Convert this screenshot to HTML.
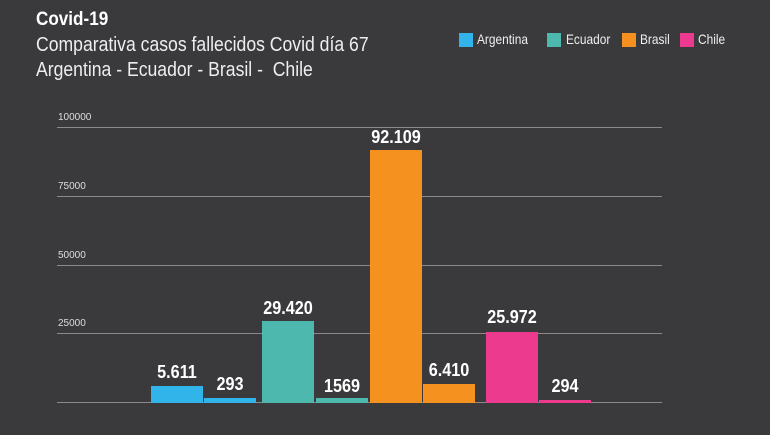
<!DOCTYPE html>
<html><head><meta charset="utf-8"><style>
body{margin:0;width:770px;height:435px;background:#3a3a3d;overflow:hidden;font-family:"Liberation Sans",sans-serif;color:#fff;position:relative}
.t{position:absolute;white-space:nowrap;transform-origin:0 0}
.g{position:absolute;left:57px;width:605px;height:1px;background:#8a8a8d}
.yl{position:absolute;left:58px;font-size:10px;color:#ddd}
.b{position:absolute;width:52px}
.v{position:absolute;width:80px;text-align:center;font-weight:bold;font-size:18px;transform:scaleX(.9)}
.lg{position:absolute;top:33px;width:14px;height:14px}
.lt{position:absolute;top:31px;font-size:14px;transform:scaleX(.85);transform-origin:0 0;color:#eee}
</style></head><body>
<div class="t" style="left:36px;top:9px;font-size:19px;font-weight:bold;transform:scaleX(.9)">Covid-19</div>
<div class="t" style="left:36px;top:34px;font-size:20px;transform:scaleX(.88);color:#eee">Comparativa casos fallecidos Covid día 67</div>
<div class="t" style="left:36px;top:59px;font-size:20px;transform:scaleX(.88);color:#eee">Argentina - Ecuador - Brasil -&nbsp; Chile</div>

<div class="lg" style="left:459px;background:#30b4e9"></div><div class="lt" style="left:477px">Argentina</div>
<div class="lg" style="left:547px;background:#4db8ad"></div><div class="lt" style="left:566px">Ecuador</div>
<div class="lg" style="left:622px;background:#f5921f"></div><div class="lt" style="left:640px">Brasil</div>
<div class="lg" style="left:680px;background:#ec3a8e"></div><div class="lt" style="left:698px">Chile</div>

<div class="yl" style="top:112px">100000</div>
<div class="yl" style="top:181px">75000</div>
<div class="yl" style="top:250px">50000</div>
<div class="yl" style="top:318px">25000</div>
<div class="g" style="top:127px"></div>
<div class="g" style="top:196px"></div>
<div class="g" style="top:265px"></div>
<div class="g" style="top:333px"></div>
<div class="g" style="top:402px"></div>

<div class="b" style="left:151px;top:386px;height:17px;background:#30b4e9"></div>
<div class="b" style="left:204px;top:398px;height:5px;background:#30b4e9"></div>
<div class="b" style="left:262px;top:321px;height:82px;background:#4db8ad"></div>
<div class="b" style="left:316px;top:398px;height:5px;background:#4db8ad"></div>
<div class="b" style="left:370px;top:150px;height:253px;background:#f5921f"></div>
<div class="b" style="left:423px;top:384px;height:19px;background:#f5921f"></div>
<div class="b" style="left:486px;top:332px;height:71px;background:#ec3a8e"></div>
<div class="b" style="left:539px;top:400px;height:3px;background:#ec3a8e"></div>

<div class="v" style="left:137px;top:362px">5.611</div>
<div class="v" style="left:190px;top:374px">293</div>
<div class="v" style="left:248px;top:298px">29.420</div>
<div class="v" style="left:302px;top:376px">1569</div>
<div class="v" style="left:356px;top:127px">92.109</div>
<div class="v" style="left:409px;top:360px">6.410</div>
<div class="v" style="left:472px;top:307px">25.972</div>
<div class="v" style="left:525px;top:376px">294</div>
</body></html>
